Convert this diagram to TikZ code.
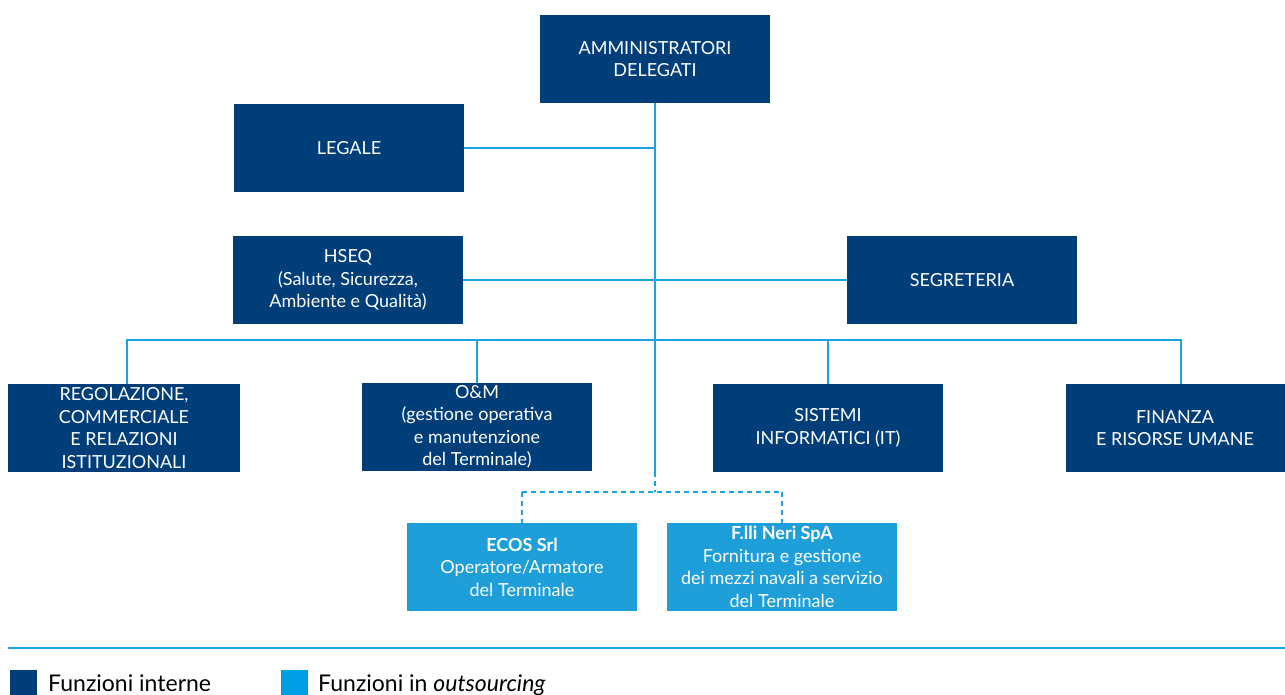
\documentclass[tikz,border=0pt]{standalone}
\usepackage{fontspec}
\setmainfont{Lato}
\definecolor{dblue}{RGB}{0,62,122}
\definecolor{lblue}{RGB}{30,159,218}
\definecolor{cline}{RGB}{26,163,224}
\definecolor{legl}{RGB}{0,159,227}
\begin{document}
\begin{tikzpicture}[x=1pt,y=-1pt,
  ibox/.style={fill=dblue,text=white,minimum width=230pt,minimum height=88pt,inner sep=0pt,align=center,font=\fontsize{18}{22.5}\selectfont},
  obox/.style={ibox,fill=lblue},
  conn/.style={draw=cline,line width=1.6pt},
  dconn/.style={conn,dash pattern=on 5pt off 4pt},
  legtext/.style={anchor=base west,font=\fontsize{23}{26}\selectfont,inner sep=0pt}]
\useasboundingbox (0,0) rectangle (1285,695);
\node[ibox] (ad) at (655,59) {AMMINISTRATORI\\DELEGATI};
\node[ibox] (leg) at (349,148) {LEGALE};
\node[ibox] (hseq) at (348,280) {HSEQ\\(Salute, Sicurezza,\\Ambiente e Qualità)};
\node[ibox] (seg) at (962,280) {SEGRETERIA};
\node[ibox,minimum width=232pt] (reg) at (124,428) {REGOLAZIONE,\\COMMERCIALE\\E RELAZIONI\\ISTITUZIONALI};
\node[ibox] (om) at (477,427) {O\&M\\(gestione operativa\\e manutenzione\\del Terminale)};
\node[ibox] (it) at (828,428) {SISTEMI\\INFORMATICI (IT)};
\node[ibox,minimum width=219pt] (fin) at (1175,428) {FINANZA\\E RISORSE UMANE};
\node[obox] (ecos) at (522,567) {\textbf{ECOS Srl}\\Operatore/Armatore\\del Terminale};
\node[obox] (neri) at (782,567) {\textbf{F.lli Neri SpA}\\Fornitura e gestione\\dei mezzi navali a servizio\\del Terminale};
% coordinates
\coordinate (tend) at (655,472);
\coordinate (bus) at (655,340);
\coordinate (bl) at (127,340);
\coordinate (br) at (1181,340);
\coordinate (dm) at (655,492);
\coordinate (dl) at (522,492);
\coordinate (dr) at (782,492);
% connectors
\draw[conn] (ad.south) -- (tend);
\draw[conn] (leg.east) -- (leg.east -| ad.south);
\draw[conn] (hseq.east) -- (seg.west);
\draw[conn] (reg.north -| bl) -- (bl) -- (br) -- (fin.north -| br);
\draw[conn] (om.north) -- (om.north |- bus);
\draw[conn] (it.north) -- (it.north |- bus);
\draw[dconn] (tend) -- (dm);
\draw[dconn] (dl) -- (dr);
\draw[dconn] (dl) -- (ecos.north);
\draw[dconn] (dr) -- (neri.north);
% legend
\coordinate (ll) at (8,648);
\coordinate (lr) at (1285,648);
\draw[conn,line width=1.2pt] (ll) -- (lr);
\node[fill=dblue,minimum width=27pt,minimum height=26pt,inner sep=0pt] (k1) at (23.5,683) {};
\node[legtext] (t1) at (48,691) {Funzioni interne};
\node[fill=legl,minimum width=27pt,minimum height=26pt,inner sep=0pt] (k2) at (294.5,683) {};
\node[legtext] (t2) at (318,691) {Funzioni in \textit{outsourcing}};
\end{tikzpicture}
\end{document}
